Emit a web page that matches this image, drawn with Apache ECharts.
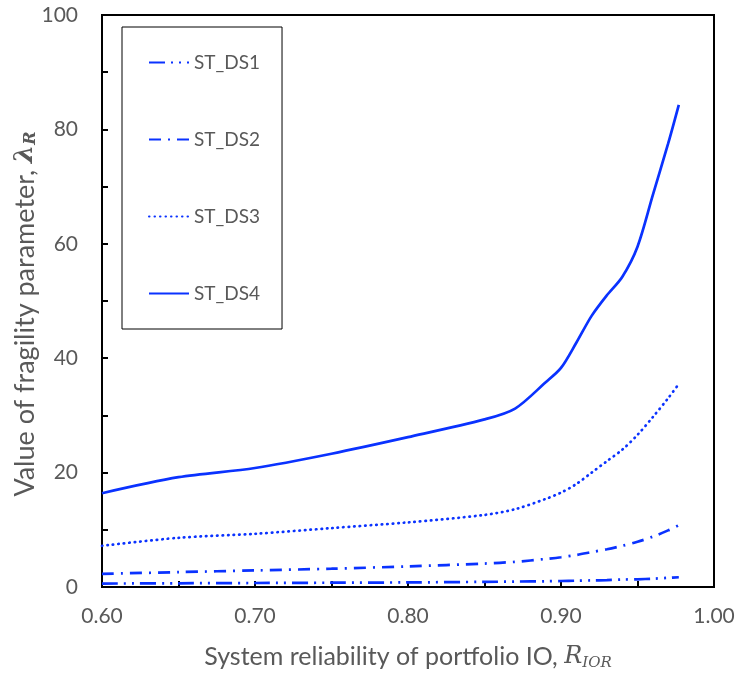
<!DOCTYPE html>
<html>
<head>
<meta charset="utf-8">
<script src="https://cdn.jsdelivr.net/npm/echarts@6/dist/echarts.min.js"></script>
<style>
  html, body { margin: 0; padding: 0; background: #fff; }
  #Chart { width: 740px; height: 677px; }
</style>
</head>
<body>
<div id="Chart"></div>
<script>
// system reliability R_IOR (x) and fragility parameter per damage state
const reliability = [0.60, 0.65, 0.70, 0.75, 0.80, 0.85, 0.87, 0.89, 0.90, 0.91, 0.92, 0.93, 0.94, 0.95, 0.96, 0.97, 0.977]
const ds1 = [0.6, 0.65, 0.7, 0.75, 0.8, 0.9, 0.95, 1.0, 1.05, 1.1, 1.15, 1.2, 1.3, 1.35, 1.45, 1.6, 1.7]
const ds2 = [2.3, 2.6, 2.9, 3.2, 3.6, 4.1, 4.4, 4.9, 5.2, 5.6, 6.1, 6.6, 7.2, 7.9, 8.8, 9.9, 10.8]
const ds3 = [7.2, 8.6, 9.3, 10.3, 11.3, 12.6, 13.6, 15.4, 16.5, 18.0, 20.0, 22.0, 24.0, 26.6, 29.7, 33.0, 35.5]
const ds4 = [16.4, 19.2, 20.8, 23.3, 26.2, 29.3, 31.2, 35.8, 38.3, 42.7, 47.4, 51.0, 54.2, 59.5, 68.5, 77.5, 84.3]
const seriesNames = ["ST_DS1", "ST_DS2", "ST_DS3", "ST_DS4"]

const blue = "#0a32ff"
const grey = "#595959"
const font = "Lato, \"Open Sans\", sans-serif"
const serif = "\"DejaVu Serif\", \"Liberation Serif\", serif"
const pairs = (ys) => reliability.map((x, i) => [x, ys[i]])

const chart = echarts.init(document.getElementById("Chart"), null, { renderer: "canvas" })

const lineOf = (name, ys, type, cap) => ({
  name: name,
  type: "line",
  smooth: 0.3,
  showSymbol: false,
  symbol: "none",
  lineStyle: { color: blue, width: 2.7, type: type, cap: cap || "butt" },
  itemStyle: { color: blue },
  data: pairs(ys)
})

const option = {
  animation: false,
  textStyle: { fontFamily: font },
  grid: {
    left: 102,
    right: 26,
    top: 15,
    bottom: 90,
    outerBoundsMode: "none",
    containLabel: false,
    show: true,
    borderColor: "#000",
    borderWidth: 2
  },
  legend: {
    orient: "vertical",
    left: 122,
    top: 27,
    itemWidth: 40,
    itemHeight: 14,
    itemGap: 58,
    padding: [26, 22, 26, 26],
    borderColor: "#000",
    borderWidth: 1,
    itemStyle: { opacity: 0 },
    textStyle: { color: grey, fontSize: 19, fontFamily: font },
    data: seriesNames
  },
  xAxis: {
    type: "value",
    min: 0.6,
    max: 1.0,
    interval: 0.1,
    name: "{a|System reliability of portfolio IO, }{r|R}{s|IOR}",
    nameLocation: "middle",
    nameGap: 55,
    nameMoveOverlap: false,
    nameTextStyle: {
      rich: {
        a: { color: grey, fontSize: 25, fontFamily: font },
        r: { color: grey, fontSize: 24, fontStyle: "italic", fontFamily: serif },
        s: { color: grey, fontSize: 15, fontStyle: "italic", fontFamily: serif, padding: [14, 0, 0, 0] }
      }
    },
    axisLine: { show: true, lineStyle: { color: "#000", width: 2 } },
    axisTick: { show: true, inside: true, length: 6, lineStyle: { color: "#000", width: 2 } },
    minorTick: { show: true, splitNumber: 2, length: 6, lineStyle: { color: "#000", width: 2 } },
    axisLabel: {
      color: grey,
      fontSize: 21,
      margin: 19,
      formatter: (v) => v.toFixed(2)
    },
    splitLine: { show: false }
  },
  yAxis: {
    type: "value",
    min: 0,
    max: 100,
    interval: 20,
    name: "{a|Value of fragility parameter, }{l|λ}{s|R}",
    nameLocation: "middle",
    nameGap: 63,
    nameMoveOverlap: false,
    nameTextStyle: {
      padding: [0, 26, 0, 0],
      rich: {
        a: { color: grey, fontSize: 27, fontFamily: font },
        l: { color: grey, fontSize: 26, fontStyle: "italic", fontWeight: "bold", fontFamily: serif },
        s: { color: grey, fontSize: 16, fontStyle: "italic", fontWeight: "bold", fontFamily: serif, padding: [12, 0, 0, 0] }
      }
    },
    axisLine: { show: true, lineStyle: { color: "#000", width: 2 } },
    axisTick: { show: true, inside: true, length: 6, lineStyle: { color: "#000", width: 2 } },
    minorTick: { show: true, splitNumber: 2, length: 6, lineStyle: { color: "#000", width: 2 } },
    axisLabel: { color: grey, fontSize: 21, margin: 24 },
    splitLine: { show: false }
  },
  series: [
    lineOf(seriesNames[0], ds1, [16, 6, 2, 6, 2, 6]),
    lineOf(seriesNames[1], ds2, [12, 7, 2, 7]),
    lineOf(seriesNames[2], ds3, [0.5, 5], "round"),
    lineOf(seriesNames[3], ds4, "solid")
  ]
}

chart.setOption(option)
</script>
</body>
</html>
